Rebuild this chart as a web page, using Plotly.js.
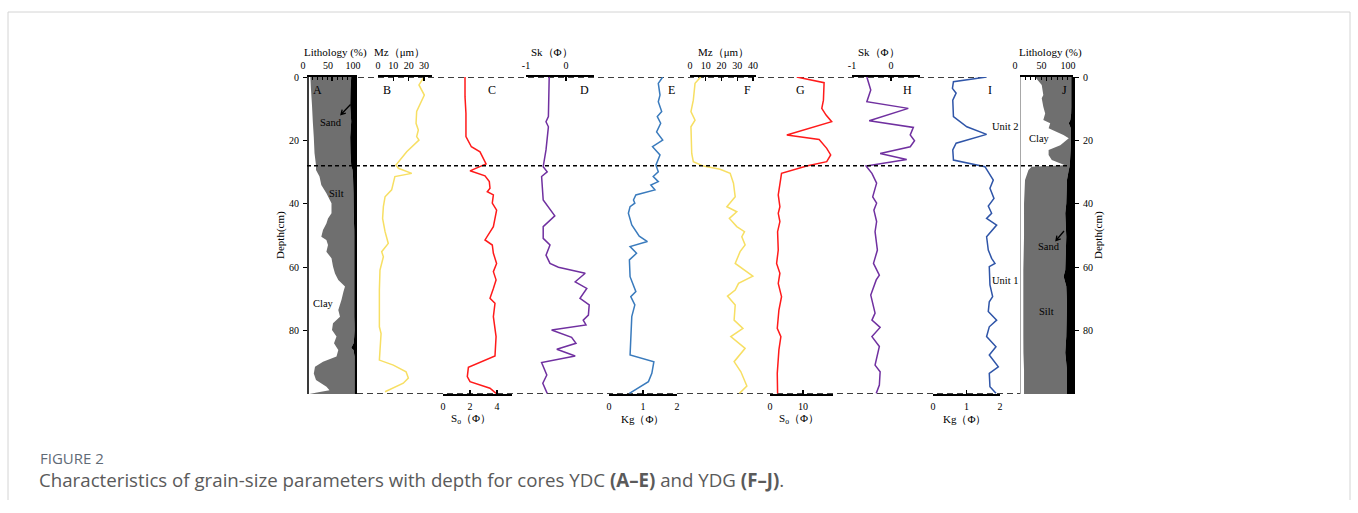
<!DOCTYPE html>
<html><head><meta charset="utf-8">
<script src="https://cdn.plot.ly/plotly-3.0.1.min.js"></script>
<style>html,body{margin:0;padding:0;background:#fff}#chart{width:1358px;height:513px}</style>
</head><body><div id="chart"></div>
<script>
// ---------- DATA (depth in cm) ----------
// A: lithology YDC (%)
const depthA = [0,4,9,14,19,24,27.8,29.3,31.4,34.1,36.7,39.8,43,44.6,46.2,48.3,50.4,51.4,53,55.1,57.2,59.8,62,64,66.1,67.7,70.3,73.5,75.6,77.7,79.8,81.9,84,85.5,86.1,88.2,89.8,91.4,93.5,95.6,97.7,98.8,99.5,100];
const clayA  = [6.8,8,10,11.6,13.6,15,18,18,25,28.6,38.8,49,49,42,38.8,32,28.6,38.8,42,38.8,49,52,56,62.6,76,73,69,62.6,66,52,50,59,54,60,62.6,59,32,16,13.6,18,39,45,20,5];
const siltA  = [81.6,79,76.4,76.8,72.8,72,70.4,73,67,63.9,54.2,44.2,44.5,52,55.2,62.5,66,55.8,52.6,55.8,45.6,42.6,38.6,32,18.6,21.6,25.6,32,28.6,43,45.2,35.5,39.2,28.4,30.4,36.2,63.2,79.2,81.6,77.2,56.2,50.2,75.2,90.2];
const sandA  = [11.6,13,13.6,11.6,13.6,13,11.6,9,8,7.5,7,6.8,6.5,6,6,5.5,5.4,5.4,5.4,5.4,5.4,5.4,5.4,5.4,5.4,5.4,5.4,5.4,5.4,5,4.8,5.5,6.8,11.6,7,4.8,4.8,4.8,4.8,4.8,4.8,4.8,4.8,4.8];
// B: Mz YDC (um)
const depthB = [0,2.5,5.7,10.9,14.6,16.7,18.8,19.9,23.6,27.8,28.8,30.4,31.4,35.6,37.8,40.9,44.6,48.8,52.5,55.1,56.7,60.9,67.2,78.8,80.9,85,89.3,90.9,93,95,96.6,99.3];
const mzYDC  = [30,26.7,30.2,25.2,24.8,26.3,25.2,26.7,18.7,11.7,13.3,22,11,8.9,4.6,3.5,3,4.6,6.7,2.4,3.5,1.3,0.9,0.9,2,1.3,0.9,10,18.3,19.8,16.5,4.6];
// C: So YDC
const depthC = [0,6.2,11.5,18.8,22,23.6,27.4,29.6,31.2,33,35.1,36.2,37.2,39.8,42,47.2,51.4,53,55.6,58.8,61.4,64,66.7,69.8,71.4,75.6,81.9,88,91.6,94.5,96.1,98.2,99.8];
const soYDC  = [1.63,1.63,1.7,1.7,2.1,2.74,3.19,2,3.11,3.43,3.48,3.28,3.73,3.65,3.97,3.73,3.11,3.65,3.73,3.97,3.73,3.93,3.73,3.48,3.85,3.73,3.93,3.85,1.88,1.8,2,3.48,3.93];
// D: Sk YDC
const depthD = [0,12.5,14.1,15.7,23,28.3,29.9,31.4,38.8,43.8,47.2,50.9,53,56.2,58.8,60,61.9,64.6,66.7,69.8,71.9,75.1,76.7,78.2,79.8,82.1,84,85.9,88,90.1,94,96.6,99.8];
const skYDC  = [-0.42,-0.44,-0.5,-0.44,-0.5,-0.57,-0.47,-0.61,-0.57,-0.28,-0.57,-0.57,-0.4,-0.5,-0.4,-0.19,0.48,0.23,0.52,0.35,0.58,0.56,0.43,0.5,-0.36,0.14,0.25,-0.23,0.23,-0.61,-0.48,-0.58,-0.47];
// E: Kg YDC
const depthE = [0,2,5.7,7.8,10.9,12.5,14.6,17.3,19.9,22,24.6,27.8,29.9,31.4,33,34.1,35.6,37.2,38.8,39.8,40.9,43,46.7,48.8,50.2,51.9,53.5,55.6,57.7,63,67.7,69.3,71.9,75.6,87.7,89.8,93.5,96.1,99.8];
const kgYDC  = [1.58,1.45,1.5,1.45,1.55,1.42,1.52,1.4,1.58,1.28,1.5,1.38,1.45,1.3,1.45,1.23,1.35,0.79,0.72,0.76,0.62,0.57,0.67,0.81,0.89,1.13,0.62,0.81,0.6,0.62,0.79,0.64,0.76,0.67,0.62,1.32,1.26,1.16,0.6];
// F: Mz YDG (um)
const depthF = [0,2,7.3,10.9,13.6,15.7,24.1,26.7,28.1,29.1,30.4,33.5,37.8,40.9,42.5,44.6,47.2,48.8,50.4,53,55.1,58.8,62.8,65.1,67.2,69.1,71.9,76.7,79.3,81.9,85.6,89.8,93,97.5,99.8];
const mzYDG  = [6.8,3.2,2.1,0.6,3.2,0.6,1.1,2.1,8.5,19.1,25.5,27.6,28.7,23.4,29.7,25,29.7,34.6,32.9,35,31.8,28.7,39.9,30.8,28.7,23.8,28.7,28,33.6,25.9,35,28,32.3,36.1,31.4];
// G: So YDG
const depthG = [0,1.8,7.3,9.9,12,14.1,18.3,19.7,22.5,24.6,26.7,28.1,30.4,33.5,37.2,40.9,43,45.6,48.8,54.6,58.8,61.9,65.1,69.3,73.5,79.3,81.9,86.1,93.5,99.8];
const soYDG  = [8.1,16.4,16.2,15.7,17,18.7,5.1,14.9,17.2,18.4,17.2,11.1,3.5,3,2.5,3,2.5,3,2.3,2.5,2,3,2.5,3.5,2.7,2.2,3.3,2.7,2.2,2.3];
// H: Sk YDG
const depthH = [0,4.1,7.8,9.9,13.8,15.9,18.3,20.1,22,24.1,26,28.1,30.4,33.5,37.8,39.8,42,45.6,48.8,54.6,58.8,62.5,64,68.8,74.5,76.7,79,81.9,85,90.9,93,97.2,99.8];
const skYDG  = [-0.62,-0.52,-0.62,0.44,-0.56,0.57,0.49,0.6,0.49,-0.28,0.4,-0.64,-0.49,-0.37,-0.47,-0.37,-0.44,-0.37,-0.41,-0.35,-0.45,-0.3,-0.38,-0.52,-0.41,-0.49,-0.28,-0.49,-0.3,-0.41,-0.28,-0.3,-0.38];
// I: Kg YDG
const depthI = [0,1.5,3.6,5.1,7.3,12.5,15.7,18.1,20.9,23,26.2,28.3,32.5,35.1,38.3,40.7,43,44.6,46.7,49.3,50.4,54.6,57.2,58.8,59.8,65.6,69.3,70.9,74,76.7,78.8,81.9,85.1,87.7,91.4,93.5,97.7,99.8];
const kgYDG  = [1.6,0.61,0.58,0.69,0.59,0.61,1.01,1.6,0.69,0.59,0.61,1.55,1.8,1.7,1.82,1.65,1.75,1.6,1.9,1.7,1.6,1.65,1.75,1.85,1.68,1.7,1.78,1.68,1.65,1.9,1.68,1.6,1.88,1.68,1.95,1.68,1.7,1.88];
// J: lithology YDG (%)
const depthJ = [0,2.5,5.7,6.7,9.4,11.5,13.6,14.6,16.2,18.3,19.3,21.5,23,24.6,26.2,27.8,28.3,29.3,32.5,39.9,43,50.4,60.9,62.9,66,71.4,81.9,87,92.4,100];
const clayJ  = [28.5,41,44,41,44,47.5,44,57,54,82,92,76,54,54,60,85,22,16,9.5,7.6,7.6,7.6,6.3,6.3,6.3,6.3,6.3,6.5,7.6,7.6];
const siltJ  = [68.3,55.8,52.8,55.8,52.8,49,51,35,42,14,4,20,41.5,41,34.5,8.7,71.5,76,79.1,79.7,77.8,79.7,79.1,76,81,82.3,81,78.9,81,81];
const sandJ  = [3.2,3.2,3.2,3.2,3.2,3.5,5,8,4,4,4,4,4.5,5,5.5,6.3,6.5,8,11.4,12.7,14.6,12.7,14.6,17.7,12.7,11.4,12.7,14.6,11.4,11.4];
// tick labels
const depthTicks = [0,20,40,60,80];
const lithTicks = [0,50,100];
const mzTicksB = [0,10,20,30];
const mzTicksF = [0,10,20,30,40];
const skTicks = [-1,0], skTickText = ['-1','0'];
const soTicksC = [0,2,4], soTicksG = [0,10];
const kgTicks = [0,1,2];
const unitDepth = 28;

// ---------- LAYOUT HELPERS ----------
const W = 1358, H = 513;
const px = x => x / W, py = y => 1 - y / H;
const FONT = '"Liberation Serif", "Times New Roman", serif';
const CAP = '"Open Sans", "Noto Sans", sans-serif';

function xax(p0, p1, range, side, vals, texts, anchor) {
  const a = {domain:[px(p0), px(p1)], range:range, side:side, anchor:anchor||'y',
    showline:true, linecolor:'#000', linewidth:1.6, ticks:'inside', ticklen:4, tickwidth:1.2, tickcolor:'#000',
    tickmode:'array', tickvals:vals, showgrid:false, zeroline:false, fixedrange:true,
    tickfont:{family:FONT, size:10, color:'#000'}, ticklabelstandoff:2};
  if (texts) a.ticktext = texts;
  return a;
}

const lineT = (x, y, ax, color) => ({x:x, y:y, xaxis:ax, yaxis:'y', type:'scatter', mode:'lines',
  line:{color:color, width:1.5}, hoverinfo:'skip'});
const stackT = (x, y, ax, yax, grp, color) => ({x:x, y:y, xaxis:ax, yaxis:yax, type:'scatter', mode:'none',
  stackgroup:grp, orientation:'h', fillcolor:color, hoverinfo:'skip'});

const data = [
  stackT(clayA, depthA, 'x', 'y', 'A', 'rgba(255,255,255,0)'),
  stackT(siltA, depthA, 'x', 'y', 'A', '#6f6f6f'),
  stackT(sandA, depthA, 'x', 'y', 'A', '#000000'),
  lineT(mzYDC, depthB, 'x2', '#f7df63'),
  lineT(soYDC, depthC, 'x3', '#ff1a1a'),
  lineT(skYDC, depthD, 'x4', '#7030a0'),
  lineT(kgYDC, depthE, 'x5', '#3a7bbd'),
  lineT(mzYDG, depthF, 'x6', '#f7df63'),
  lineT(soYDG, depthG, 'x7', '#ff1a1a'),
  lineT(skYDG, depthH, 'x8', '#7030a0'),
  lineT(kgYDG, depthI, 'x9', '#2f55a8'),
  stackT(clayJ, depthJ, 'x10', 'y2', 'J', 'rgba(255,255,255,0)'),
  stackT(siltJ, depthJ, 'x10', 'y2', 'J', '#6f6f6f'),
  stackT(sandJ, depthJ, 'x10', 'y2', 'J', '#000000')
];

const lithA = xax(307, 357, [0,100], 'top', lithTicks);
lithA.minor = {ticks:'inside', dtick:10, ticklen:3, tickcolor:'#000', tickwidth:1};
lithA.ticklabelshift = -4;
const lithJ = xax(1020, 1073, [0,100], 'top', lithTicks, null, 'y2');
lithJ.minor = {ticks:'inside', dtick:10, ticklen:3, tickcolor:'#000', tickwidth:1};
lithJ.ticklabelshift = -5;

const ann = [];
function t(x, y, text, size, opts) {
  ann.push(Object.assign({xref:'paper', yref:'paper', x:px(x), y:py(y), text:text, showarrow:false,
    font:{family:FONT, size:size||11, color:'#000'}, xanchor:'center', yanchor:'middle'}, opts||{}));
}
// axis titles
t(335, 52, 'Lithology (%)', 11);
t(399, 52, 'Mz（μm）', 11);
t(552, 52, 'Sk（Φ）', 11);
t(723, 52, 'Mz（μm）', 11);
t(879, 52, 'Sk（Φ）', 11);
t(1050, 52, 'Lithology (%)', 11);
t(471, 419, 'S<sub>o</sub>（Φ）', 11);
t(642, 419, 'Kg（Φ）', 11);
t(799, 419, 'S<sub>o</sub>（Φ）', 11);
t(964, 419, 'Kg（Φ）', 11);
t(281, 235, 'Depth(cm)', 11, {textangle:-90});
t(1099, 235, 'Depth(cm)', 11, {textangle:-90});
// panel letters
[['A',317],['B',387],['C',492],['D',584],['E',671],['F',747],['G',800],['H',908],['I',990],['J',1064]]
  .forEach(p => t(p[1], 90, p[0], 12));
// in-panel labels
t(331, 123, 'Sand', 10.5);
t(336, 193, 'Silt', 10.5);
t(323, 303, 'Clay', 10.5);
t(1039, 138, 'Clay', 10.5);
t(1049, 247, 'Sand', 10.5);
t(1046, 311, 'Silt', 10.5);
t(1005, 127, 'Unit 2', 10.5);
t(1005, 280, 'Unit 1', 10.5);
// caption
ann.push({xref:'paper', yref:'paper', x:px(38), y:py(458), xanchor:'left', yanchor:'middle', showarrow:false,
  text:'FIGURE 2', font:{family:CAP, size:15, color:'#5f6b76'}});
ann.push({xref:'paper', yref:'paper', x:px(37), y:py(479), xanchor:'left', yanchor:'middle', showarrow:false,
  text:'Characteristics of grain-size parameters with depth for cores YDC <b>(A–E)</b> and YDG <b>(F–J)</b>.',
  font:{family:CAP, size:18.7, color:'#5a5a5a'}});

// arrow drawn as a path (tail -> head with a V head), in paper units
function arrowPath(tx, ty, hx, hy, len) {
  const dx = tx - hx, dy = ty - hy, L = Math.hypot(dx, dy), ux = dx / L, uy = dy / L;
  const c = Math.cos(Math.PI / 6), s = Math.sin(Math.PI / 6);
  const a1 = [hx + len * (c * ux - s * uy), hy + len * (s * ux + c * uy)];
  const a2 = [hx + len * (c * ux + s * uy), hy + len * (-s * ux + c * uy)];
  const P = (x, y) => px(x) + ',' + py(y);
  return 'M' + P(tx, ty) + ' L' + P(hx, hy) + ' M' + P(a1[0], a1[1]) + ' L' + P(hx, hy) + ' L' + P(a2[0], a2[1]);
}

const shapes = [
  // frame
  {type:'line', xref:'paper', yref:'paper', x0:px(8), x1:px(1350), y0:py(12), y1:py(12), line:{color:'#d4d4d4', width:1}},
  {type:'line', xref:'paper', yref:'paper', x0:px(8), x1:px(8), y0:py(12), y1:py(500), line:{color:'#d4d4d4', width:1}},
  {type:'line', xref:'paper', yref:'paper', x0:px(1350), x1:px(1350), y0:py(12), y1:py(500), line:{color:'#d4d4d4', width:1}},
  // J left grey border
  {type:'line', xref:'x10', yref:'y', x0:0, x1:0, y0:0, y1:100, line:{color:'#a8a8a8', width:2}},
  // dashed reference lines
  {type:'line', layer:'below', xref:'paper', yref:'y', x0:px(358), x1:px(987), y0:0, y1:0, line:{color:'#000', width:1.6, dash:'6px,4px'}},
  {type:'line', layer:'below', xref:'paper', yref:'y', x0:px(357), x1:px(1020), y0:100, y1:100, line:{color:'#000', width:1.6, dash:'6px,4px'}},
  {type:'line', xref:'paper', yref:'y', x0:px(307), x1:px(1075), y0:unitDepth, y1:unitDepth, line:{color:'#000', width:1.5, dash:'4px,3px'}},
  // arrows
  {type:'path', xref:'paper', yref:'paper', path:arrowPath(350.5, 104.5, 341, 114.5, 5), line:{color:'#000', width:1.3}},
  {type:'path', xref:'paper', yref:'paper', path:arrowPath(1064, 231, 1056, 240.5, 5), line:{color:'#000', width:1.3}}
];

const layout = {
  width:W, height:H, margin:{l:0, r:0, t:0, b:0}, paper_bgcolor:'#fff', plot_bgcolor:'rgba(0,0,0,0)',
  showlegend:false, hovermode:false,
  yaxis:{domain:[py(394), py(77)], range:[100,0], anchor:'free', position:px(307), side:'left',
    showline:true, linecolor:'#3a3a3a', linewidth:1.6, ticks:'outside', ticklen:4, tickcolor:'#000',
    tickvals:depthTicks, showgrid:false, zeroline:false, fixedrange:true,
    tickfont:{family:FONT, size:10, color:'#000'}, ticklabelstandoff:2},
  yaxis2:{overlaying:'y', range:[100,0], anchor:'free', position:px(1074), side:'right',
    showline:true, linecolor:'#000', linewidth:2, ticks:'outside', ticklen:4, tickcolor:'#000',
    tickvals:depthTicks, showgrid:false, zeroline:false, fixedrange:true,
    tickfont:{family:FONT, size:10, color:'#000'}, ticklabelstandoff:2},
  xaxis:lithA,
  xaxis2:xax(378, 432, [0,35.2], 'top', mzTicksB),
  xaxis3:xax(443, 512, [0,5.11], 'bottom', soTicksC),
  xaxis4:xax(526, 594, [-1,0.7], 'top', skTicks, skTickText),
  xaxis5:xax(609, 677, [0,2], 'bottom', kgTicks),
  xaxis6:xax(690, 756, [0,41.9], 'top', mzTicksF),
  xaxis7:xax(770, 833, [0,19.1], 'bottom', soTicksG),
  xaxis8:xax(852, 920, [-1,0.74], 'top', skTicks, skTickText),
  xaxis9:xax(933, 1000, [0,2], 'bottom', kgTicks),
  xaxis10:lithJ,
  shapes:shapes, annotations:ann
};

Plotly.newPlot('chart', data, layout, {staticPlot:true, displayModeBar:false});
</script></body></html>
